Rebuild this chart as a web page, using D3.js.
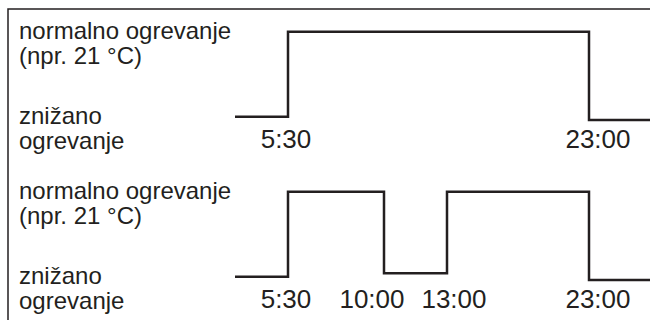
<!DOCTYPE html>
<html>
<head>
<meta charset="utf-8">
<script src="https://cdn.jsdelivr.net/npm/d3@7"></script>
<style>
  body { margin: 0; background: #fff; }
  svg { display: block; }
  text { font-family: "Liberation Sans", Arial, sans-serif; fill: #231f20; }
</style>
</head>
<body>
<div id="chart"></div>
<script>
// level labels (left side)
var highLabel = ["normalno ogrevanje", "(npr. 21 °C)"];
var lowLabel = ["znižano", "ogrevanje"];

// switching times in hours, and heating level after each time (1 = normal, 0 = reduced)
var day1Times = [3, 5.5, 23, 27.3];
var day1Levels = [0, 1, -0.04, -0.04];
var day2Times = [3, 5.5, 10, 13, 23, 27.3];
var day2Levels = [0, 1, 0.04, 1, -0.04, -0.04];

// tick labels per panel
var day1Ticks = [5.5, 23];
var day2Ticks = [5.5, 10, 13, 23];
var tickText = { 5.5: "5:30", 10: "10:00", 13: "13:00", 23: "23:00" };

var width = 650, height = 320;
var svg = d3.select("#chart").append("svg")
    .attr("width", width)
    .attr("height", height);

// schematic (non-linear) time axis
var x = d3.scaleLinear()
    .domain([3, 5.5, 10, 13, 23, 27.3])
    .range([235, 288, 384, 447, 589, width]);

var y = d3.scaleLinear().domain([0, 1]).range([116.7, 31.7]);

// frame: top and left edge only
svg.append("path")
    .attr("d", "M8,320V9H650")
    .attr("fill", "none")
    .attr("stroke", "#231f20")
    .attr("stroke-width", 1.5);

var labelDx = { 5.5: -2, 10: -12, 13: 7, 23: 9 };

function drawPanel(times, levels, ticks, offset) {
    var g = svg.append("g").attr("transform", "translate(0," + offset + ")");
    var pts = times.map(function(t, i) { return [t, levels[i]]; });

    var line = d3.line()
        .x(function(d) { return x(d[0]); })
        .y(function(d) { return y(d[1]); })
        .curve(d3.curveStepAfter);

    g.append("path")
        .attr("d", line(pts))
        .attr("fill", "none")
        .attr("stroke", "#231f20")
        .attr("stroke-width", 2.5);

    var lbl = g.append("text").attr("font-size", 24);
    highLabel.forEach(function(s, i) {
        lbl.append("tspan").attr("x", 19).attr("y", 39 + i * 25).text(s);
    });
    var lbl2 = g.append("text").attr("font-size", 24);
    lowLabel.forEach(function(s, i) {
        lbl2.append("tspan").attr("x", 19).attr("y", 124 + i * 25).text(s);
    });

    g.selectAll(".tick").data(ticks).enter()
        .append("text")
        .attr("class", "tick")
        .attr("x", function(d) { return x(d) + labelDx[d]; })
        .attr("y", 148)
        .attr("text-anchor", "middle")
        .attr("font-size", 26)
        .text(function(d) { return tickText[d]; });
}

drawPanel(day1Times, day1Levels, day1Ticks, 0);
drawPanel(day2Times, day2Levels, day2Ticks, 160);
</script>
</body>
</html>
